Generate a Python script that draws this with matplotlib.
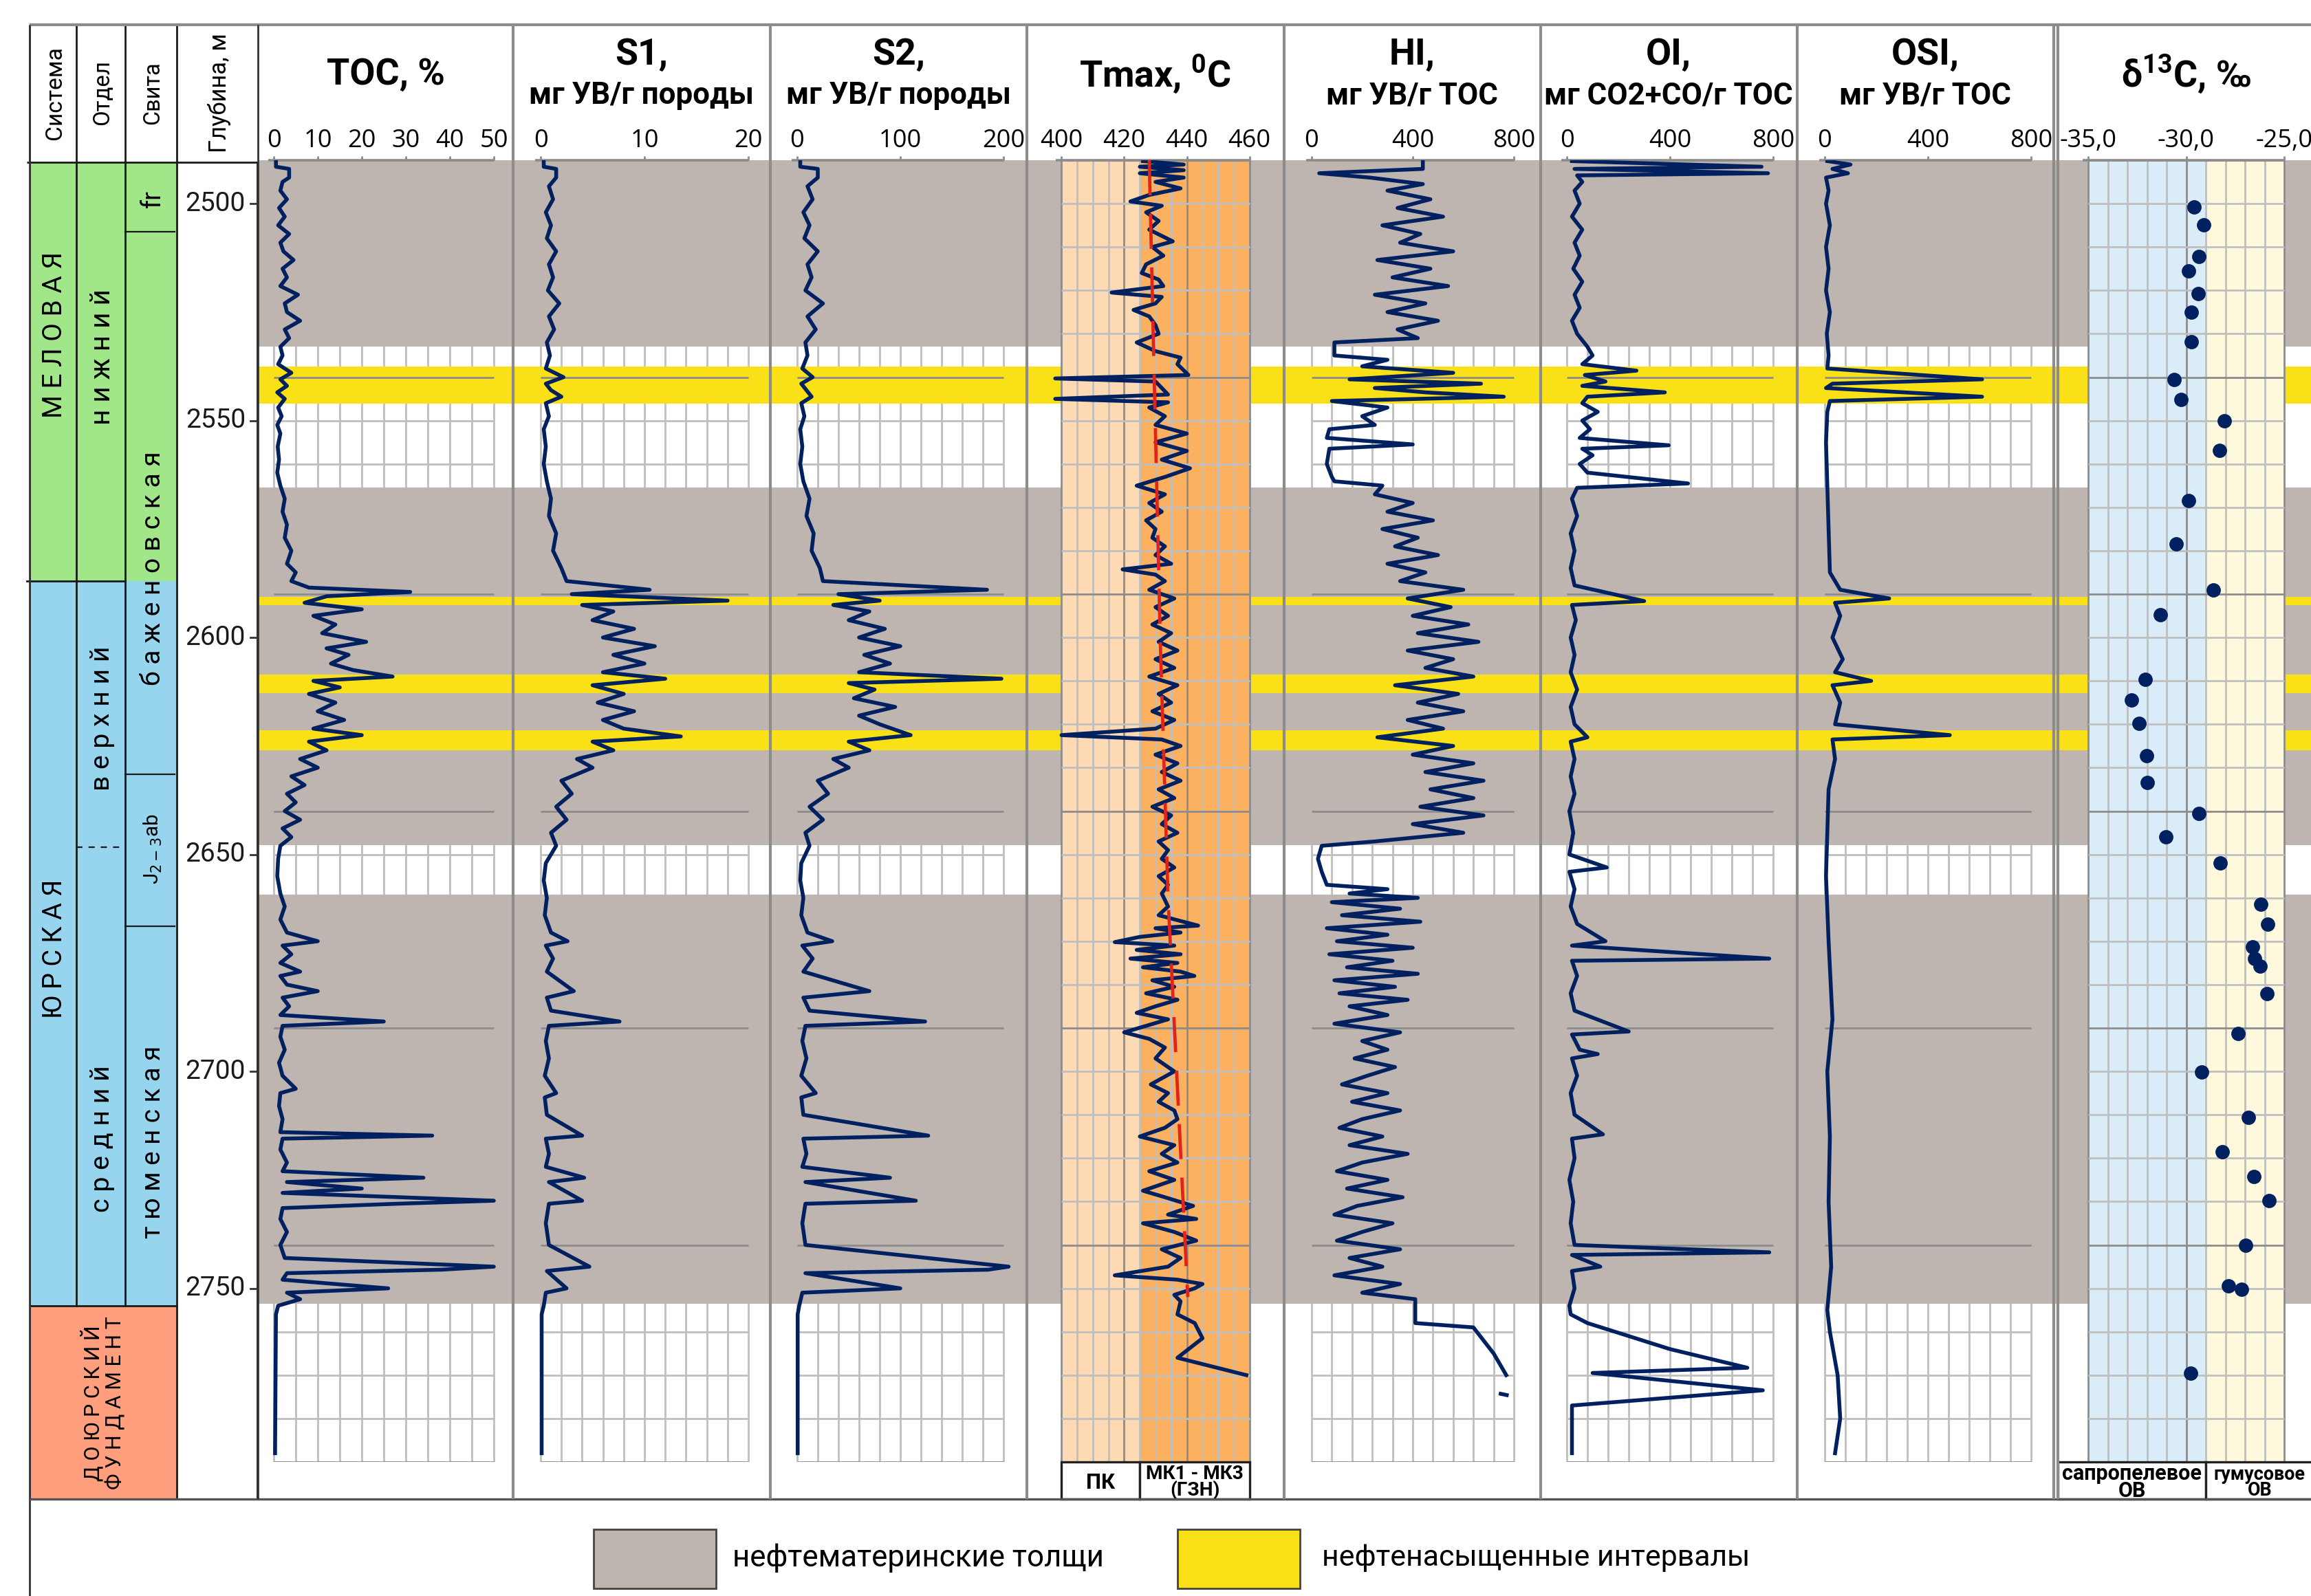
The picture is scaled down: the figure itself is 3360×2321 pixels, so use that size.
import matplotlib
matplotlib.use("Agg")
import matplotlib.pyplot as plt
from matplotlib.patches import Rectangle
from matplotlib.lines import Line2D

# ======================= DATA =======================
DEPTH_RANGE = (2490, 2790)
DEPTH_TICKS = [2500, 2550, 2600, 2650, 2700, 2750]

SYSTEMS = [("М Е Л О В А Я", 2490.5, 2587.0), ("Ю Р С К А Я", 2587.0, 2754.0)]
SERIES = [("н и ж н и й", 2490.5, 2587.0), ("в е р х н и й", 2587.0, 2648.3),
          ("с р е д н и й", 2648.3, 2754.0)]
FORMATIONS = [("fr", 2490.5, 2506.5), ("б а ж е н о в с к а я", 2506.5, 2631.6),
              ("J$_{2-3}$ab", 2631.6, 2666.6), ("т ю м е н с к а я", 2666.6, 2754.0)]
BASEMENT = ("Д О Ю Р С К И Й\nФ У Н Д А М Е Н Т", 2754.0, 2798.5)

SOURCE_ROCK = [(2490, 2533.0), (2565.5, 2647.8), (2659.2, 2753.6)]
OIL_SATURATED = [(2537.6, 2546.1), (2590.6, 2592.6), (2608.5, 2612.8), (2621.3, 2626.0)]

TITLES = [("TOC, %", None), ("S1,", "мг УВ/г породы"), ("S2,", "мг УВ/г породы"),
          ("Tmax, $\\mathregular{^{0}}$C", None), ("HI,", "мг УВ/г TOC"),
          ("OI,", "мг CO2+CO/г TOC"), ("OSI,", "мг УВ/г TOC"),
          ("δ$\\mathregular{^{13}}$C, ‰", None)]

TOC_PTS = [(2490.2, 0.5), (2491.5, 0.5), (2492, 3.5), (2494, 3.5), (2495, 2.0), (2497, 1.5), (2499, 3.0),
           (2501, 1.2), (2503, 2.5), (2505, 1.0), (2507, 3.5), (2509, 1.5), (2511, 2.2), (2513, 4.5),
           (2515, 2.0), (2517, 3.0), (2519, 1.5), (2521, 5.5), (2523, 2.5), (2525, 3.0), (2527, 6.0),
           (2529, 2.5), (2531, 3.5), (2533, 1.5), (2535, 2.0), (2537, 1.0), (2539, 4.0), (2540.5, 1.5),
           (2542, 3.0), (2543.5, 0.8), (2545, 2.5), (2547, 1.0), (2549, 1.8), (2551, 0.8), (2553, 1.5),
           (2556, 0.9), (2559, 1.2), (2562, 0.8), (2565, 1.5), (2568, 2.5), (2571, 2.0), (2574, 3.0),
           (2577, 2.5), (2580, 4.0), (2583, 3.0), (2585, 5.0), (2587, 4.0), (2588.5, 8.0), (2589.5, 31.0),
           (2590.5, 12.0), (2592, 7.0), (2593.5, 20.0), (2595, 9.0), (2597, 14.0), (2599, 11.0),
           (2601, 21.0), (2602.5, 12.0), (2604, 17.0), (2606, 13.0), (2607.5, 18.0), (2609, 27.0),
           (2610, 9.0), (2611.5, 15.0), (2613, 8.0), (2615, 14.0), (2617, 10.0), (2619, 16.0), (2621, 9.0),
           (2622.5, 20.0), (2624, 8.0), (2626, 12.0), (2628, 6.0), (2630, 10.0), (2632, 4.0), (2634, 7.0),
           (2636, 3.0), (2638, 5.0), (2640, 2.5), (2642, 6.0), (2644, 2.0), (2646, 4.0), (2648, 1.5),
           (2651, 1.0), (2655, 0.8), (2659, 1.5), (2662, 2.5), (2665, 1.5), (2668, 3.0), (2670, 10.0),
           (2671, 2.0), (2673, 4.0), (2675, 1.5), (2677, 6.0), (2678, 1.5), (2680, 3.0), (2681.5, 10.0),
           (2683, 2.0), (2685, 3.5), (2687, 1.5), (2688.5, 25.0), (2689.5, 2.0), (2692, 1.5), (2695, 2.5),
           (2698, 1.2), (2701, 2.0), (2704, 5.0), (2705, 1.5), (2708, 1.2), (2711, 2.0), (2714, 1.5),
           (2714.8, 36.0), (2715.5, 2.0), (2718, 1.5), (2721, 3.0), (2723, 2.0), (2724.5, 34.0),
           (2725.5, 3.0), (2727, 20.0), (2728, 2.0), (2729.8, 50.0), (2730.5, 28.0), (2731.5, 2.0),
           (2734, 1.5), (2737, 3.0), (2740, 1.5), (2743, 2.5), (2745, 50.0), (2745.7, 38.0), (2746.5, 3.0),
           (2748, 2.0), (2750, 26.0), (2751, 3.0), (2752.5, 6.0), (2754, 1.0), (2756, 0.5), (2788, 0.3)]

S1_PTS = [(2490.2, 0.3), (2491.5, 0.3), (2492, 1.5), (2494, 1.5), (2496, 0.8), (2499, 1.2), (2502, 0.5),
          (2505, 1.0), (2508, 0.6), (2511, 1.5), (2514, 0.8), (2517, 1.2), (2520, 0.7), (2523, 1.8),
          (2526, 0.8), (2529, 1.3), (2532, 0.6), (2535, 0.9), (2538, 0.5), (2540, 2.2), (2541.5, 0.5),
          (2543, 1.0), (2544.5, 2.0), (2546, 0.5), (2549, 0.8), (2552, 0.3), (2556, 0.5), (2560, 0.3),
          (2564, 0.6), (2568, 1.0), (2572, 0.8), (2576, 1.5), (2580, 1.2), (2584, 2.0), (2587, 2.5),
          (2589, 10.5), (2590, 3.0), (2591.5, 18.0), (2592.5, 4.0), (2594, 7.0), (2596, 5.0), (2598, 9.0),
          (2600, 6.0), (2602, 11.0), (2604, 7.0), (2606, 10.0), (2608, 6.0), (2609.5, 12.0), (2611, 5.0),
          (2613, 8.0), (2615, 5.5), (2617, 9.0), (2619, 6.0), (2621, 8.0), (2622.8, 13.5), (2624, 5.0),
          (2626, 7.0), (2628, 3.5), (2630, 5.0), (2633, 2.0), (2636, 3.0), (2639, 1.5), (2642, 2.5),
          (2645, 1.0), (2648, 1.5), (2652, 0.5), (2656, 0.3), (2660, 0.6), (2664, 0.4), (2668, 1.0),
          (2670, 2.6), (2671, 0.5), (2674, 1.2), (2677, 0.6), (2681.5, 3.2), (2683, 0.6), (2686, 1.0),
          (2688.5, 7.6), (2689.5, 0.8), (2693, 0.5), (2697, 0.8), (2701, 0.4), (2705, 1.5), (2706, 0.4),
          (2710, 0.6), (2714.8, 4.0), (2715.5, 0.5), (2719, 0.8), (2722, 0.5), (2724.5, 4.2), (2725.5, 0.8),
          (2729.8, 4.0), (2730.5, 0.8), (2735, 0.5), (2740, 0.8), (2745, 4.7), (2746, 0.6), (2750, 2.5),
          (2751, 0.5), (2754, 0.3), (2756, 0.1), (2788, 0.1)]

S2_PTS = [(2490.2, 3), (2491.5, 3), (2492, 20), (2494, 20), (2496, 10), (2499, 15), (2502, 6), (2505, 12),
          (2508, 7), (2511, 20), (2514, 10), (2517, 14), (2520, 8), (2523, 25), (2526, 10), (2529, 18),
          (2532, 8), (2535, 10), (2538, 5), (2540, 15), (2541.5, 4), (2543, 9), (2544.5, 14), (2546, 4),
          (2549, 7), (2552, 3), (2556, 5), (2560, 3), (2564, 6), (2568, 12), (2572, 9), (2576, 16),
          (2580, 14), (2584, 22), (2587, 25), (2589, 184), (2590, 40), (2591.5, 80), (2592.5, 35),
          (2594, 70), (2596, 50), (2598, 85), (2600, 60), (2602, 100), (2604, 65), (2606, 90), (2608, 60),
          (2609.5, 198), (2610.5, 50), (2612, 75), (2614, 55), (2616, 95), (2618, 60), (2620, 80),
          (2622.5, 110), (2624, 50), (2626, 70), (2628, 35), (2630, 50), (2633, 20), (2636, 30), (2639, 12),
          (2642, 25), (2645, 8), (2648, 12), (2652, 4), (2656, 3), (2660, 6), (2664, 4), (2668, 10),
          (2670, 34), (2671, 5), (2674, 15), (2677, 6), (2681.5, 70), (2683, 6), (2686, 12), (2688.5, 124),
          (2689.5, 8), (2693, 5), (2697, 9), (2701, 4), (2705, 18), (2706, 4), (2710, 6), (2714.8, 127),
          (2715.5, 6), (2719, 9), (2722, 5), (2724.5, 90), (2725.5, 8), (2729.8, 115), (2730.5, 8),
          (2735, 5), (2740, 8), (2745, 205), (2745.7, 185), (2746.5, 8), (2750, 100), (2751, 5), (2754, 2),
          (2756, 0.5), (2788, 0.5)]

TMAX_PTS = [(2490.2, 426), (2491, 439), (2491.5, 425), (2492.3, 439), (2493, 425), (2494, 439), (2495, 430),
            (2496.5, 438), (2498, 428), (2499.5, 422), (2500.5, 432), (2502, 427), (2504, 431), (2506, 428),
            (2508.7, 435.5), (2510, 429), (2512, 432.5), (2514, 427), (2516, 425.6), (2517.5, 431),
            (2519, 432.5), (2520.5, 416), (2521.5, 432), (2523, 430), (2524.5, 423), (2526, 428), (2528, 430),
            (2530, 431), (2532, 424), (2534, 430), (2535.5, 438), (2537, 437), (2539.5, 440.5), (2540.3, 398),
            (2541, 430), (2542.5, 432), (2544, 434), (2545, 398), (2545.8, 434), (2547, 428), (2549, 433),
            (2551, 430), (2553, 440), (2555, 430), (2557, 440), (2559, 432), (2561, 441), (2563, 433),
            (2565, 424), (2567, 433), (2569, 428), (2571, 432), (2573, 427), (2575, 430), (2577, 429),
            (2579, 433), (2581, 430), (2583, 435), (2584.3, 419.5), (2585.5, 430), (2587, 433), (2589, 428),
            (2591, 436), (2593, 430), (2595, 434), (2597, 429), (2599, 435), (2601, 431), (2603, 437),
            (2605, 430), (2607, 436), (2609, 428), (2611, 437), (2613, 431), (2615, 435), (2617, 429),
            (2619, 436), (2621, 430), (2622.5, 400), (2623.5, 432), (2625, 438), (2627, 430), (2629, 437),
            (2631, 432), (2633, 438), (2635, 431), (2637, 436), (2639, 429), (2641, 435), (2643, 432),
            (2645, 437), (2647, 431), (2649, 434), (2651, 432), (2653, 436), (2655, 431), (2657, 434),
            (2659, 432), (2662, 434), (2664, 431), (2666.4, 443.6), (2667, 430), (2668, 438), (2669, 425),
            (2670.2, 417), (2671, 436), (2672, 424), (2673, 438), (2674, 422), (2675, 437), (2676, 426),
            (2677, 438), (2678, 442.4), (2679, 429), (2680.5, 436), (2682, 427), (2683.5, 437), (2685, 430),
            (2686.5, 424), (2688, 434), (2691, 420), (2692.5, 428), (2694.5, 433), (2697, 430), (2700, 436),
            (2703, 428.5), (2705, 434), (2707, 431), (2709, 436), (2711, 437), (2713, 433), (2715, 425),
            (2717, 436), (2719, 432), (2721, 437), (2723, 428), (2725, 436), (2727.5, 426), (2729, 433),
            (2731, 442), (2733, 434), (2734, 443), (2735, 426), (2737, 436), (2739, 443), (2741, 432),
            (2743, 438), (2745, 434), (2747, 417), (2748, 437), (2749, 445), (2750, 442.5), (2751.5, 436),
            (2753, 438), (2756, 437), (2758, 442.5), (2761.5, 445), (2766, 437), (2770, 459)]

TMAX_TREND = [(2490, 428.0), (2600, 431.5), (2660, 434.0), (2752, 440.3)]

HI_PTS = [(2490.2, 440), (2492, 440), (2493, 30), (2494, 230), (2495.5, 440), (2497, 300), (2499, 470),
          (2501, 340), (2503, 520), (2505, 280), (2507, 430), (2509, 350), (2511, 560), (2513, 260),
          (2515, 470), (2517, 320), (2519, 540), (2521, 250), (2523, 450), (2525, 300), (2527, 500),
          (2529, 340), (2531, 420), (2532, 90), (2535, 90), (2536, 300), (2537.5, 200), (2539, 560),
          (2540.5, 150), (2541.5, 670), (2542.5, 250), (2543.5, 450), (2544.5, 760), (2545.5, 80),
          (2547, 300), (2549, 200), (2551, 250), (2552, 70), (2554, 60), (2555.5, 400), (2556.5, 70),
          (2560, 60), (2563, 80), (2564, 90), (2565, 280), (2567, 250), (2569, 400), (2571, 300),
          (2573, 480), (2575, 280), (2577, 420), (2579, 330), (2581, 500), (2583, 300), (2585, 450),
          (2587, 350), (2589, 600), (2591, 380), (2593, 550), (2595, 400), (2597, 620), (2599, 420),
          (2601, 660), (2603, 380), (2605, 560), (2607, 450), (2609, 640), (2611, 330), (2613, 580),
          (2615, 420), (2617, 600), (2619, 380), (2621, 520), (2623, 260), (2625, 560), (2627, 400),
          (2629, 640), (2631, 450), (2633, 680), (2635, 470), (2637, 640), (2639, 430), (2641, 680),
          (2643, 400), (2645, 600), (2647, 250), (2648, 40), (2651, 25), (2654, 40), (2657, 60), (2658, 300),
          (2659, 150), (2660, 420), (2661, 80), (2662.5, 350), (2664, 120), (2665.5, 430), (2667, 60),
          (2668.5, 300), (2670, 100), (2671.5, 400), (2673, 70), (2674.5, 320), (2676, 140), (2677.5, 420),
          (2679, 90), (2680.5, 330), (2682, 110), (2683.5, 380), (2685, 150), (2687, 300), (2689, 90),
          (2691, 350), (2693, 200), (2695, 300), (2697, 170), (2699, 330), (2701, 220), (2703, 120),
          (2705, 300), (2707, 160), (2709, 350), (2711, 200), (2713, 110), (2715, 280), (2717, 150),
          (2719, 380), (2721, 200), (2723, 100), (2725, 300), (2727, 140), (2729, 360), (2731, 180),
          (2733, 90), (2735, 320), (2737, 200), (2739, 100), (2741, 350), (2743, 150), (2745, 280),
          (2747, 90), (2749, 350), (2751, 200), (2752.5, 410), (2758, 410), (2759, 640), (2765, 720),
          (2770, 770)]
HI_TAIL_PTS = [(2774.3, 748), (2774.6, 772)]

OI_PTS = [(2490.2, 20), (2491.5, 755), (2492, 30), (2493, 780), (2493.5, 40), (2495, 60), (2497, 30),
          (2500, 50), (2503, 20), (2506, 60), (2509, 30), (2512, 50), (2515, 25), (2518, 60), (2521, 30),
          (2524, 50), (2527, 20), (2530, 40), (2533, 80), (2535, 100), (2537, 60), (2538.5, 270),
          (2539.5, 70), (2541, 150), (2542, 60), (2543.5, 380), (2544.5, 80), (2546, 60), (2548, 120),
          (2550, 60), (2552, 90), (2554, 50), (2555.7, 395), (2556.5, 60), (2558, 100), (2560, 50),
          (2562, 80), (2564.5, 470), (2565.5, 40), (2568, 20), (2572, 40), (2576, 15), (2580, 30),
          (2584, 15), (2588, 30), (2591.6, 300), (2592.5, 20), (2596, 35), (2600, 15), (2604, 30),
          (2608, 15), (2612, 40), (2616, 15), (2620, 30), (2623, 80), (2624, 15), (2628, 30), (2632, 15),
          (2636, 30), (2640, 10), (2645, 25), (2650, 10), (2653, 155), (2654, 10), (2658, 30), (2662, 15),
          (2666, 40), (2670, 150), (2671, 20), (2674, 785), (2674.5, 20), (2678, 40), (2682, 15),
          (2686, 30), (2690.8, 240), (2691.5, 20), (2695, 50), (2696, 120), (2697, 20), (2701, 40),
          (2705, 15), (2710, 30), (2714.5, 140), (2715.5, 20), (2720, 30), (2725, 10), (2730, 25),
          (2735, 15), (2740, 30), (2741.7, 785), (2742.3, 20), (2745, 130), (2746, 20), (2750, 30),
          (2754, 10), (2756, 15), (2758, 80), (2764, 400), (2768.3, 700), (2769.5, 100), (2773.5, 760),
          (2777, 20), (2788, 20)]

OSI_PTS = [(2490.2, 10), (2491, 100), (2492, 30), (2493, 90), (2494, 5), (2497, 15), (2500, 5), (2505, 20),
           (2510, 5), (2515, 15), (2520, 5), (2525, 20), (2530, 8), (2535, 15), (2538, 10), (2540.5, 610),
           (2541.5, 30), (2542.5, 5), (2544.5, 610), (2545.5, 20), (2548, 10), (2555, 5), (2565, 10),
           (2575, 15), (2585, 20), (2589, 60), (2591, 250), (2592, 40), (2595, 60), (2600, 30), (2605, 70),
           (2608, 40), (2610, 180), (2611, 30), (2615, 60), (2620, 40), (2622.5, 485), (2623.5, 30),
           (2628, 40), (2635, 15), (2645, 10), (2655, 5), (2670, 15), (2688, 30), (2700, 10), (2715, 20),
           (2730, 15), (2745, 25), (2755, 10), (2760, 20), (2770, 50), (2780, 60), (2788, 40)]

D13C_PTS = [(2500.8, -29.6), (2504.9, -29.09), (2512.2, -29.34), (2515.5, -29.88), (2520.7, -29.39),
            (2525.1, -29.74), (2531.9, -29.74), (2540.5, -30.61), (2545.1, -30.25), (2550.1, -28.07),
            (2556.9, -28.30), (2568.5, -29.87), (2578.5, -30.52), (2589.0, -28.61), (2594.7, -31.32),
            (2609.6, -32.08), (2614.4, -32.79), (2619.8, -32.40), (2627.2, -32.02), (2633.4, -31.99),
            (2640.6, -29.36), (2646.0, -31.05), (2652.0, -28.25), (2661.5, -26.20), (2666.1, -25.83),
            (2671.3, -26.60), (2674.0, -26.51), (2675.7, -26.24), (2682.1, -25.88), (2691.3, -27.34),
            (2700.1, -29.21), (2710.6, -26.81), (2718.5, -28.15), (2724.2, -26.55), (2729.8, -25.78),
            (2740.0, -26.98), (2749.5, -27.84), (2750.2, -27.18), (2769.5, -29.76)]

TMAX_ZONES = [("ПК", 400, 425), ("МК1 - МК3\n(ГЗН)", 425, 460)]
D13C_ZONES = [("сапропелевое\nОВ", -35, -29), ("гумусовое\nОВ", -29, -25)]
LEGEND = ["нефтематеринские толщи", "нефтенасыщенные интервалы"]

# ======================= STYLE / LAYOUT =======================
W, H, DPI = 3360, 2321, 200
NAVY = "#002060"
GREY_BAND = "#BFB5B0"
YELLOW = "#FAE017"
GREEN = "#A2E68A"
BLUE = "#97D4EE"
SALMON = "#FF9F7E"
PEACH = "#FDDAB3"
ORANGE = "#FCB160"
LBLUE = "#DAECF8"
LYELL = "#FEF9DC"
GRID_MIN = "#BFBFBF"
GRID_MAJ = "#8C8C8C"
SEP = "#8C8C8C"

Y_HEAD, Y_TOP, Y_BOT, Y_FRAME = 36, 233, 2126, 2180
PXM = (Y_BOT - Y_TOP) / (DEPTH_RANGE[1] - DEPTH_RANGE[0])
SEPS = [375, 746, 1119.5, 1493, 1866.5, 2239.5, 2612.5, 2986]
FAM = ["Roboto", "DejaVu Sans"]


def fnt(size, bold=False):
    return dict(family=FAM, fontsize=size, fontweight="bold" if bold else "normal")


fig = plt.figure(figsize=(W / DPI, H / DPI), dpi=DPI)
fig.patch.set_facecolor("white")
RENDERER = fig.canvas.get_renderer()


def extent(t, along="w"):
    bb = t.get_window_extent(RENDERER)
    return bb.width if along == "w" else bb.height


def fit(t, target, along="w", exact=False, lo=0.5, hi=1.4):
    cur = extent(t, along)
    if cur <= 0:
        return
    k = target / cur
    if not exact:
        k = min(k, 1.0)
    k = max(lo, min(hi, k))
    t.set_fontsize(t.get_fontsize() * k)


def axes_px(x0, y0, x1, y1, z=1):
    ax = fig.add_axes([x0 / W, 1 - y1 / H, (x1 - x0) / W, (y1 - y0) / H], zorder=z)
    ax.patch.set_alpha(0)
    for s in ax.spines.values():
        s.set_visible(False)
    ax.set_xticks([])
    ax.set_yticks([])
    return ax


def fline(x0, y0, x1, y1, color="black", lw=1.0, z=10, ls="-"):
    fig.add_artist(Line2D([x0 / W, x1 / W], [1 - y0 / H, 1 - y1 / H], transform=fig.transFigure,
                          color=color, lw=lw, zorder=z, ls=ls, solid_capstyle="butt"))


def ftext(x, y, s, **kw):
    return fig.text(x / W, 1 - y / H, s, **kw)


# ---------- background bands (continuous across the whole log panel) ----------
ax_bg = axes_px(SEPS[0], Y_TOP, W, Y_BOT, z=0)
ax_bg.set_xlim(0, 1)
ax_bg.set_ylim(DEPTH_RANGE[1], DEPTH_RANGE[0])
for a, b in SOURCE_ROCK:
    ax_bg.axhspan(a, b, color=GREY_BAND, lw=0)
for a, b in OIL_SATURATED:
    ax_bg.axhspan(a, b, color=YELLOW, lw=0)

# ---------- tracks ----------
TRACK_AX = [
    (0, 50, 398, 718, [0, 10, 20, 30, 40, 50], None, 5),
    (0, 20, 786, 1088, [0, 10, 20], None, 2),
    (0, 200, 1159, 1459, [0, 100, 200], None, 20),
    (400, 460, 1543.3, 1816.7, [400, 420, 440, 460], None, 5),
    (0, 800, 1907, 2201, [0, 400, 800], None, 80),
    (0, 800, 2278, 2578, [0, 400, 800], None, 80),
    (0, 800, 2653, 2953, [0, 400, 800], None, 80),
    (-35, -25, 3036, 3321, [-35, -30, -25], ["-35,0", "-30,0", "-25,0"], 1),
]
TRACK_SEP = [(SEPS[i], SEPS[i + 1]) for i in range(7)] + [(2992, 3364)]
CURVES = [[TOC_PTS], [S1_PTS], [S2_PTS], [TMAX_PTS], [HI_PTS, HI_TAIL_PTS], [OI_PTS], [OSI_PTS], []]
FILLED = {3: (TMAX_ZONES, [PEACH, ORANGE]), 7: (D13C_ZONES, [LBLUE, LYELL])}

track_axes = []
for i, ((vmin, vmax, p0, p1, ticks, tlabels, step), (s0, s1)) in enumerate(zip(TRACK_AX, TRACK_SEP)):
    ax = axes_px(s0, Y_TOP, s1, Y_BOT, z=2)
    sc = (vmax - vmin) / (p1 - p0)
    ax.set_xlim(vmin - (p0 - s0) * sc, vmax + (s1 - p1) * sc)
    ax.set_ylim(DEPTH_RANGE[1], DEPTH_RANGE[0])
    track_axes.append(ax)
    for a, b in SOURCE_ROCK:
        ax.axhspan(a, b, color=GREY_BAND, lw=0, zorder=1.5)
    for a, b in OIL_SATURATED:
        ax.axhspan(a, b, color=YELLOW, lw=0, zorder=1.5)
    filled = i in FILLED
    if filled:
        zones, cols = FILLED[i]
        for (lab, a, b), col in zip(zones, cols):
            ax.add_patch(Rectangle((a, DEPTH_RANGE[0]), b - a, DEPTH_RANGE[1] - DEPTH_RANGE[0],
                                   facecolor=col, lw=0, zorder=1.7))
    gz = 1.8 if filled else 1.0
    n = int(round((vmax - vmin) / step))
    for k in range(n + 1):
        x = vmin + k * step
        major = filled and any(abs(x - t) < 1e-9 for t in ticks)
        ax.plot([x, x], list(DEPTH_RANGE), color=GRID_MAJ if major else GRID_MIN,
                lw=1.0, zorder=gz, solid_capstyle="butt")
    for d in range(DEPTH_RANGE[0], DEPTH_RANGE[1] + 1, 10):
        major = (d - DEPTH_RANGE[0]) % 50 == 0
        ax.plot([vmin, vmax], [d, d], color=GRID_MAJ if major else GRID_MIN, lw=1.0,
                zorder=2.0 if major else gz, solid_capstyle="butt")
    ax.plot([vmin - 8 * sc, vmax], [DEPTH_RANGE[0]] * 2, color=GRID_MAJ, lw=1.3, zorder=3,
            clip_on=False, solid_capstyle="butt")
    ax.set_xticks(ticks)
    ax.set_xticklabels(tlabels if tlabels else [str(t) for t in ticks])
    ax.tick_params(axis="x", top=True, bottom=False, labeltop=True, labelbottom=False,
                   direction="out", length=2.3, width=1.0, color=GRID_MAJ, pad=1.2)
    for lab in ax.get_xticklabels():
        lab.set_fontfamily(["Open Sans", "DejaVu Sans"])
        lab.set_fontsize(13)
    for pts in CURVES[i]:
        ax.plot([v for d, v in pts], [d for d, v in pts], color=NAVY, lw=2.0, zorder=4)
    if i == 3:
        ax.plot([v for d, v in TMAX_TREND], [d for d, v in TMAX_TREND], color="#E2231A", lw=1.7,
                dashes=(10.8, 5.7), zorder=5)
    if i == 7:
        ax.plot([v for d, v in D13C_PTS], [d for d, v in D13C_PTS], "o", ms=6.5, color=NAVY, zorder=5)

# bottom label boxes for Tmax and d13C
BOX_TEXT_W = {"ПК": 42, "МК1 - МК3\n(ГЗН)": 142, "сапропелевое\nОВ": 208, "гумусовое\nОВ": 133}
for i in (3, 7):
    zones = FILLED[i][0]
    s0, s1 = TRACK_SEP[i]
    axl = axes_px(s0, Y_BOT, s1, Y_FRAME, z=3)
    axl.set_xlim(track_axes[i].get_xlim())
    axl.set_ylim(1, 0)
    xl = axl.get_xlim()
    for k, (lab, a, b) in enumerate(zones):
        if i == 7:
            a = xl[0] if k == 0 else a
            b = xl[1] if k == len(zones) - 1 else b
        axl.add_patch(Rectangle((a, 0), b - a, 1, facecolor="white", edgecolor="#222222", lw=1.2,
                                clip_on=False))
        t = axl.text((a + b) / 2, 0.55, lab, ha="center", va="center", linespacing=0.8,
                     **fnt(12, True))
        fit(t, BOX_TEXT_W[lab], exact=True, hi=1.8)
        if extent(t, "h") > 54:
            fit(t, 54, "h")

# ---------- headers ----------
TITLE_REF = {0: 192, 3: 203, 7: 189}
probe = []
for i, wref in TITLE_REF.items():
    t = ftext(0, 0, TITLES[i][0], **fnt(21, True))
    probe.append(21 * wref / extent(t))
    t.remove()
probe.sort()
SIZE1 = probe[1]
t = ftext(0, 0, TITLES[5][1], **fnt(21, True))
SIZE2 = min(21 * 362 / extent(t), SIZE1)
t.remove()
for i, (l1, l2) in enumerate(TITLES):
    s0, s1 = TRACK_SEP[i]
    xc = (s0 + s1) / 2
    if l2 is None:
        ftext(xc, 108, l1, ha="center", va="center", **fnt(SIZE1, True))
    else:
        ftext(xc, 79, l1, ha="center", va="center", **fnt(SIZE1, True))
        ftext(xc, 139, l2, ha="center", va="center", **fnt(SIZE2, True))

# ---------- left stratigraphic columns ----------
X_L, X_SYS, X_SER, X_FM, X_DEP = 43, 111, 182, 257, 375
ax_s = axes_px(X_L, Y_TOP, X_DEP, Y_FRAME, z=3)
ax_s.set_xlim(X_L, X_DEP)
ax_s.set_ylim(DEPTH_RANGE[1] + (Y_FRAME - Y_BOT) / PXM, DEPTH_RANGE[0])
for (lab, a, b), col in zip(SYSTEMS, [GREEN, BLUE]):
    for x0, x1 in [(X_L, X_SYS), (X_SYS, X_SER), (X_SER, X_FM)]:
        ax_s.add_patch(Rectangle((x0, a), x1 - x0, b - a, facecolor=col, lw=0, zorder=1))
ax_s.add_patch(Rectangle((X_L, BASEMENT[1]), X_FM - X_L, BASEMENT[2] - BASEMENT[1],
                         facecolor=SALMON, lw=0, zorder=1))

LABEL_DEPTH_SYS = [2530.3, 2671.8]
LABEL_DEPTH_SER = [2535.3, 2618.7, 2715.5]
LABEL_DEPTH_FM = [2498.9, 2584.1, 2648.8, 2716.3]
LEN_SYS = [242, 203]
LEN_SER = [198, 210, 214]
LEN_FM = [26, 341, 102, 281]
for (lab, a, b), yd, ln in zip(SYSTEMS, LABEL_DEPTH_SYS, LEN_SYS):
    t = ax_s.text((X_L + X_SYS) / 2 + 2, yd, lab, rotation=90, ha="center", va="center", **fnt(15))
    fit(t, ln, "h", exact=True)
for (lab, a, b), yd, ln in zip(SERIES, LABEL_DEPTH_SER, LEN_SER):
    t = ax_s.text((X_SYS + X_SER) / 2 + 2, yd, lab, rotation=90, ha="center", va="center", **fnt(15))
    fit(t, ln, "h", exact=True)
for (lab, a, b), yd, ln in zip(FORMATIONS, LABEL_DEPTH_FM, LEN_FM):
    t = ax_s.text((X_SER + X_FM) / 2 + 3, yd, lab, rotation=90, ha="center", va="center", **fnt(15))
    fit(t, ln, "h", exact=True)
t = ax_s.text((X_L + X_FM) / 2, 2776.4, BASEMENT[0], rotation=90, ha="center", va="center",
              linespacing=1.15, **fnt(15))
fit(t, 252, "h", exact=True)

LK = "#1A1A1A"
ybot = ax_s.get_ylim()[0]
for x in (X_SYS, X_SER):
    ax_s.plot([x, x], [SYSTEMS[0][1], BASEMENT[1]], color=LK, lw=1.0, zorder=3)
for x in (X_L, X_FM, X_DEP - 1):
    ax_s.plot([x, x], [SYSTEMS[0][1], ybot], color=LK, lw=1.0, zorder=3)
ax_s.plot([X_L - 4, X_SER], [SYSTEMS[1][1]] * 2, color=LK, lw=1.0, zorder=3, clip_on=False)
ax_s.plot([X_L, X_FM], [BASEMENT[1]] * 2, color=LK, lw=1.0, zorder=3)
for lab, a, b in FORMATIONS[1:]:
    ax_s.plot([X_SER, X_FM - 3], [a, a], color=LK, lw=0.8, zorder=3)
ax_s.plot([X_SYS, X_SER], [SERIES[2][1]] * 2, color=LK, lw=0.8, ls=(0, (4, 4)), zorder=3)
ax_s.plot([X_L, X_DEP], [ybot, ybot], color="#333333", lw=1.0, zorder=3)
for d in DEPTH_TICKS:
    ax_s.plot([X_DEP - 11, X_DEP], [d, d], color="#333333", lw=1.0, zorder=3)
    ax_s.text(X_DEP - 18, d, str(d), ha="right", va="center", color="#1A1A1A",
              family=["Roboto", "DejaVu Sans"], fontsize=14)

for x0, x1, lab, ln in [(X_L, X_SYS, "Система", 136), (X_SYS, X_SER, "Отдел", 95),
                        (X_SER, X_FM, "Свита", 92), (X_FM, X_DEP, "Глубина, м", 174)]:
    t = ftext((x0 + x1) / 2 + 3, 135, lab, rotation=90, ha="center", va="center", **fnt(16))
    fit(t, ln, "h", exact=True)
fline(X_L - 4, 236, X_DEP, 236, color=LK, lw=1.0)
for x in (X_L, X_SYS, X_SER, X_FM):
    fline(x, Y_HEAD, x, 236, color=LK, lw=1.0)

# ---------- frame & separators ----------
fline(X_L, Y_HEAD, W, Y_HEAD, color=SEP, lw=1.5)
fline(X_L, Y_HEAD, X_L, H, color="#333333", lw=1.0)
fline(X_L, Y_FRAME, W, Y_FRAME, color="#555555", lw=1.2)
fline(SEPS[0], Y_HEAD, SEPS[0], Y_FRAME, color="#333333", lw=1.0)
for x in SEPS[1:] + [2992]:
    fline(x, Y_HEAD, x, Y_FRAME, color=SEP, lw=1.5)

# ---------- legend ----------
for (x0, x1, col), lab, tx, ln in zip([(863, 1041, GREY_BAND), (1712, 1890, YELLOW)], LEGEND,
                                      [1065, 1922], [540, 624]):
    fig.add_artist(Rectangle((x0 / W, 1 - 2310 / H), (x1 - x0) / W, (2310 - 2224) / H,
                             transform=fig.transFigure, facecolor=col, edgecolor="#444444", lw=1.0))
    t = ftext(tx, 2266, lab, ha="left", va="center", **fnt(18))
    fit(t, ln, exact=True)

fig.savefig("out.png", dpi=DPI)
